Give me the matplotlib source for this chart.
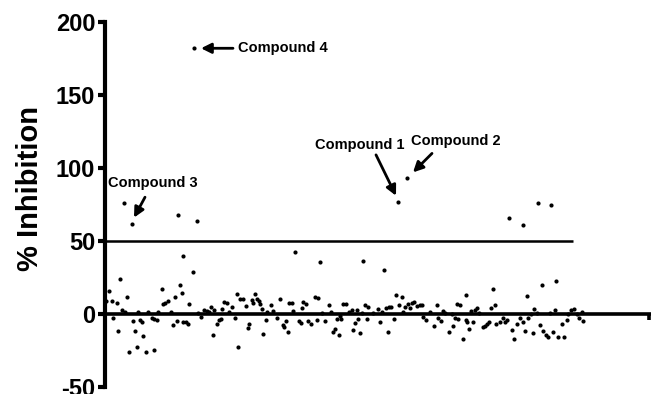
import matplotlib
matplotlib.use("Agg")
import matplotlib.pyplot as plt

plt.rcParams['font.family'] = ['Liberation Sans', 'DejaVu Sans']
plt.rcParams['font.weight'] = 'bold'
plt.rcParams['axes.unicode_minus'] = False

# Compound index (screening order) and % inhibition values
outlier_idx = [19, 27, 73, 92, 89, 293, 302, 404, 418, 433, 446, 78, 88, 190, 215, 258, 279, 388, 361, 437, 451, 422, 15]
outlier_pct = [76, 61.5, 67.8, 63.5, 182, 77, 93, 66, 61, 75.7, 75, 40, 28.8, 42.3, 35.4, 36.5, 30, 17.2, 12.9, 20.2, 22.9, 12.2, 24]

idx_a = [4, 22, 57, 75, 77, 70, 63, 60, 58, 1, 7, 12, 17, 20, 33, 43, 53, 66, 8, 28, 35, 37, 47, 49, 52, 72, 68, 78, 13, 30, 38, 24, 32, 41, 49]
pct_a = [15.6, 11.8, 16.8, 20, 14.5, 11.8, 8.8, 7.3, 6.6, 8.8, 8.8, 7.7, 2.7, 1.4, 1.4, 1.6, 1.4, 1.4, -2.9, -4.8, -4.3, -5.4, -2.5, -3.6, -4.3, -4.8, -7.7, -5.4, -11.6, -11.6, -15, -26, -22.4, -26, -24.7]

idx_b = [84, 81, 83, 93, 96, 99, 102, 104, 106, 109, 108, 112, 114, 116, 117, 119, 122, 124, 127, 130, 132, 135, 138, 141, 133, 143, 144, 147, 150, 148, 152, 155, 157, 158, 154]
pct_b = [6.6, -5.2, -7, 0.9, -1.8, 2.7, 2, 1.4, 5, 2.5, -14.3, -7, -4.3, -3.6, 3.6, 8.2, 7.3, 1.7, 4.8, -2.5, 13.8, 10.4, 10, 5.4, -22.4, -9.7, -7, 9.3, 13.8, 7.7, 10.4, 7, 3.2, -13.4, 8.8]

idx_c = [161, 162, 166, 168, 172, 175, 178, 179, 181, 183, 184, 187, 188, 194, 196, 197, 198, 201, 203, 206, 210, 213, 212, 217, 220, 224, 226, 228, 230, 232, 234, 235, 238]
pct_c = [-4.1, 1.4, 5.9, 2, -2.5, 10, -7.5, -8.6, -4.8, -12.2, 7.7, 7.3, 2, -4.8, -6.3, 3.9, 8.4, 6.6, -4.8, -6.6, 11.6, 10.7, -4.3, 0.9, -4.8, 5.9, 1.6, -12.2, -10.4, -3.6, -14.5, -1.4, 6.6]

idx_d = [241, 236, 244, 247, 252, 250, 248, 255, 253, 257, 260, 263, 262, 268, 273, 275, 277, 281, 283, 284, 286, 289, 291, 297, 294, 300, 303, 305, 307, 309, 312, 315, 317, 298]
pct_d = [6.6, -3.6, 1.4, 2.7, 2.5, -6.3, -11, -12.7, -3.6, 1, 5.9, 4.8, -3.6, 1, 3.2, -5.4, 1.4, 4.4, -12, 4.8, 5, -3.6, 12.9, 11.6, 5.9, 4.8, 7, 3.9, 7.7, 8.2, 5.4, 6.1, 6.1, 1.4]

idx_e = [318, 321, 325, 329, 332, 333, 336, 338, 340, 344, 347, 348, 350, 352, 355, 353, 358, 361, 362, 364, 366, 368, 370, 372, 374, 378, 380, 382, 384, 386, 390, 391, 395, 398]
pct_e = [-2, -4.3, 1.4, -8.2, 6.1, -2.5, -4.8, 2, 0.9, -12.2, 0.3, -8.2, -2.5, 6.6, 5.9, -3.6, -17.2, -4.3, -5.4, -10.4, 2, -5.4, 2.5, 3.9, 1, -8.8, -8.2, -6.6, -5.8, 4.4, 5.9, -6.6, -5.4, -2.5]

idx_f = [400, 402, 407, 409, 412, 415, 418, 420, 423, 426, 428, 429, 432, 435, 438, 441, 443, 445, 448, 450, 453, 457, 459, 462, 463, 466, 469, 472, 474, 477, 478]
pct_f = [-5.4, -4.3, -10.9, -16.8, -6.6, -2.5, -5.4, -11.6, -2.5, 0, -12.7, 3.2, 1, -7.5, -11.6, -14.3, -15.6, 1, -12.2, 2.5, -15.6, -7, -15.6, -4.3, 0, 2.5, 3.6, 0, -2.5, 1.4, -4.8]

all_idx = outlier_idx + idx_a + idx_b + idx_c + idx_d + idx_e + idx_f
all_pct = outlier_pct + pct_a + pct_b + pct_c + pct_d + pct_e + pct_f

yticks = [-50, 0, 50, 100, 150, 200]
threshold = 50
threshold_end = 468

fig = plt.figure(figsize=(6.51, 3.94), dpi=100)
ax = fig.add_axes([105/651, 7/394, 546/651, 365/394])
ax.set_xlim(0, 546)
ax.set_ylim(-50, 200)

ax.scatter(all_idx, all_pct, s=9, color='black', linewidths=0, zorder=3, clip_on=False)
ax.plot([0, threshold_end], [threshold, threshold], color='black', lw=1.8, solid_capstyle='butt')

for s in ['top', 'right']:
    ax.spines[s].set_visible(False)
ax.spines['left'].set_linewidth(3)
ax.spines['bottom'].set_position(('data', 0))
ax.spines['bottom'].set_linewidth(2.6)
ax.spines['left'].set_capstyle('projecting')

ax.set_yticks(yticks)
ax.set_yticklabels([str(v) for v in yticks])
ax.tick_params(axis='y', direction='out', length=5, width=3, labelsize=17, pad=2)
ax.set_xticks([544])
ax.set_xticklabels([''])
ax.tick_params(axis='x', direction='out', length=4, width=2.6)
for lbl in ax.get_yticklabels():
    lbl.set_fontweight('bold')

ax.set_ylabel('% Inhibition', fontsize=21, fontweight='bold')
ax.yaxis.set_label_coords(-0.112, 0.545)

arrow = dict(arrowstyle='-|>,head_length=0.6,head_width=0.3', color='black', lw=2,
             shrinkA=0, shrinkB=0)
fs = 10.5
ax.annotate('', xy=(96, 182), xytext=(128, 182), arrowprops=arrow)
ax.text(133, 182, 'Compound 4', fontsize=fs, fontweight='bold', ha='left', va='center')

ax.text(48, 90, 'Compound 3', fontsize=fs, fontweight='bold', ha='center', va='center')
ax.annotate('', xy=(29, 66), xytext=(40, 80), arrowprops=arrow)

ax.text(255, 116, 'Compound 1', fontsize=fs, fontweight='bold', ha='center', va='center')
ax.annotate('', xy=(291, 81), xytext=(271, 109), arrowprops=arrow)

ax.text(351, 118.5, 'Compound 2', fontsize=fs, fontweight='bold', ha='center', va='center')
ax.annotate('', xy=(308, 97), xytext=(327, 110), arrowprops=arrow)

fig.savefig('out.png', dpi=100)
